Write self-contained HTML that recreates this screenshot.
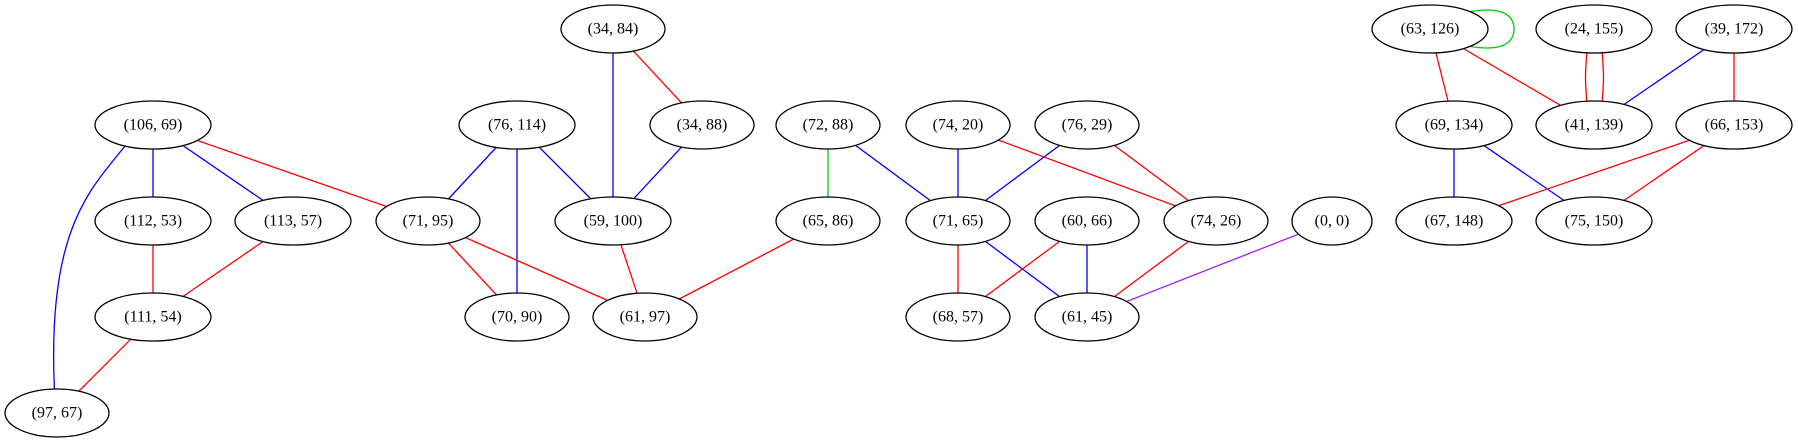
<!DOCTYPE html>
<html><head><meta charset="utf-8"><style>
html,body{margin:0;padding:0;background:#fff;}
svg text{font-family:"Liberation Serif",serif;font-size:16px;text-anchor:middle;dominant-baseline:central;}
</style></head><body>
<svg width="1798" height="443" viewBox="0 0 1798 443" xmlns="http://www.w3.org/2000/svg">
<g fill="none" stroke-width="1.3">
<line x1="153" y1="125" x2="153" y2="221" stroke="#00f"/>
<line x1="153" y1="125" x2="293" y2="221" stroke="#00f"/>
<line x1="153" y1="125" x2="428" y2="221" stroke="#f00"/>
<path d="M125,146 C90,190 45,230 55,400" stroke="#00f"/>
<line x1="153" y1="221" x2="153" y2="317" stroke="#f00"/>
<line x1="293" y1="221" x2="153" y2="317" stroke="#f00"/>
<line x1="153" y1="317" x2="57" y2="413" stroke="#f00"/>
<line x1="517" y1="125" x2="428" y2="221" stroke="#00f"/>
<line x1="517" y1="125" x2="517" y2="317" stroke="#00f"/>
<line x1="517" y1="125" x2="613" y2="221" stroke="#00f"/>
<line x1="613" y1="29" x2="613" y2="221" stroke="#00f"/>
<line x1="613" y1="29" x2="702" y2="125" stroke="#f00"/>
<line x1="702" y1="125" x2="613" y2="221" stroke="#00f"/>
<line x1="428" y1="221" x2="517" y2="317" stroke="#f00"/>
<line x1="428" y1="221" x2="645" y2="317" stroke="#f00"/>
<line x1="613" y1="221" x2="645" y2="317" stroke="#f00"/>
<line x1="828" y1="221" x2="645" y2="317" stroke="#f00"/>
<line x1="828" y1="125" x2="828" y2="221" stroke="#0c0"/>
<line x1="828" y1="125" x2="958" y2="221" stroke="#00f"/>
<line x1="958" y1="125" x2="958" y2="221" stroke="#00f"/>
<line x1="958" y1="125" x2="1216" y2="221" stroke="#f00"/>
<line x1="1087" y1="125" x2="958" y2="221" stroke="#00f"/>
<line x1="1087" y1="125" x2="1216" y2="221" stroke="#f00"/>
<line x1="958" y1="221" x2="958" y2="317" stroke="#f00"/>
<line x1="958" y1="221" x2="1087" y2="317" stroke="#00f"/>
<line x1="1087" y1="221" x2="958" y2="317" stroke="#f00"/>
<line x1="1087" y1="221" x2="1087" y2="317" stroke="#00f"/>
<line x1="1216" y1="221" x2="1087" y2="317" stroke="#f00"/>
<line x1="1332" y1="221" x2="1087" y2="317" stroke="#a020f0"/>
<path d="M1468,12 C1500,6 1514,14 1514,29 C1514,44 1500,52 1468,46" stroke="#0c0"/>
<line x1="1430" y1="29" x2="1454" y2="125" stroke="#f00"/>
<line x1="1430" y1="29" x2="1594" y2="125" stroke="#f00"/>
<path d="M1587,50 C1585,75 1585,80 1587,104" stroke="#f00"/>
<path d="M1602,50 C1604,75 1604,80 1602,104" stroke="#f00"/>
<line x1="1734" y1="29" x2="1594" y2="125" stroke="#00f"/>
<line x1="1734" y1="29" x2="1734" y2="125" stroke="#f00"/>
<line x1="1454" y1="125" x2="1454" y2="221" stroke="#00f"/>
<line x1="1454" y1="125" x2="1594" y2="221" stroke="#00f"/>
<line x1="1734" y1="125" x2="1454" y2="221" stroke="#f00"/>
<line x1="1734" y1="125" x2="1594" y2="221" stroke="#f00"/>
</g>
<g fill="#fff" stroke="#000" stroke-width="1.3">
<ellipse cx="613" cy="29" rx="52" ry="24"/>
<ellipse cx="1430" cy="29" rx="58" ry="24"/>
<ellipse cx="1594" cy="29" rx="58" ry="24"/>
<ellipse cx="1734" cy="29" rx="58" ry="24"/>
<ellipse cx="153" cy="125" rx="58" ry="24"/>
<ellipse cx="517" cy="125" rx="58" ry="24"/>
<ellipse cx="702" cy="125" rx="52" ry="24"/>
<ellipse cx="828" cy="125" rx="52" ry="24"/>
<ellipse cx="958" cy="125" rx="52" ry="24"/>
<ellipse cx="1087" cy="125" rx="52" ry="24"/>
<ellipse cx="1454" cy="125" rx="58" ry="24"/>
<ellipse cx="1594" cy="125" rx="58" ry="24"/>
<ellipse cx="1734" cy="125" rx="58" ry="24"/>
<ellipse cx="153" cy="221" rx="58" ry="24"/>
<ellipse cx="293" cy="221" rx="58" ry="24"/>
<ellipse cx="428" cy="221" rx="52" ry="24"/>
<ellipse cx="613" cy="221" rx="58" ry="24"/>
<ellipse cx="828" cy="221" rx="52" ry="24"/>
<ellipse cx="958" cy="221" rx="52" ry="24"/>
<ellipse cx="1087" cy="221" rx="52" ry="24"/>
<ellipse cx="1216" cy="221" rx="52" ry="24"/>
<ellipse cx="1332" cy="221" rx="40" ry="24"/>
<ellipse cx="1454" cy="221" rx="58" ry="24"/>
<ellipse cx="1594" cy="221" rx="58" ry="24"/>
<ellipse cx="153" cy="317" rx="58" ry="24"/>
<ellipse cx="517" cy="317" rx="52" ry="24"/>
<ellipse cx="645" cy="317" rx="52" ry="24"/>
<ellipse cx="958" cy="317" rx="52" ry="24"/>
<ellipse cx="1087" cy="317" rx="52" ry="24"/>
<ellipse cx="57" cy="413" rx="52" ry="24"/>
</g>
<g fill="#000">
<text x="613" y="29">(34, 84)</text>
<text x="1430" y="29">(63, 126)</text>
<text x="1594" y="29">(24, 155)</text>
<text x="1734" y="29">(39, 172)</text>
<text x="153" y="125">(106, 69)</text>
<text x="517" y="125">(76, 114)</text>
<text x="702" y="125">(34, 88)</text>
<text x="828" y="125">(72, 88)</text>
<text x="958" y="125">(74, 20)</text>
<text x="1087" y="125">(76, 29)</text>
<text x="1454" y="125">(69, 134)</text>
<text x="1594" y="125">(41, 139)</text>
<text x="1734" y="125">(66, 153)</text>
<text x="153" y="221">(112, 53)</text>
<text x="293" y="221">(113, 57)</text>
<text x="428" y="221">(71, 95)</text>
<text x="613" y="221">(59, 100)</text>
<text x="828" y="221">(65, 86)</text>
<text x="958" y="221">(71, 65)</text>
<text x="1087" y="221">(60, 66)</text>
<text x="1216" y="221">(74, 26)</text>
<text x="1332" y="221">(0, 0)</text>
<text x="1454" y="221">(67, 148)</text>
<text x="1594" y="221">(75, 150)</text>
<text x="153" y="317">(111, 54)</text>
<text x="517" y="317">(70, 90)</text>
<text x="645" y="317">(61, 97)</text>
<text x="958" y="317">(68, 57)</text>
<text x="1087" y="317">(61, 45)</text>
<text x="57" y="413">(97, 67)</text>
</g>
</svg>
</body></html>
